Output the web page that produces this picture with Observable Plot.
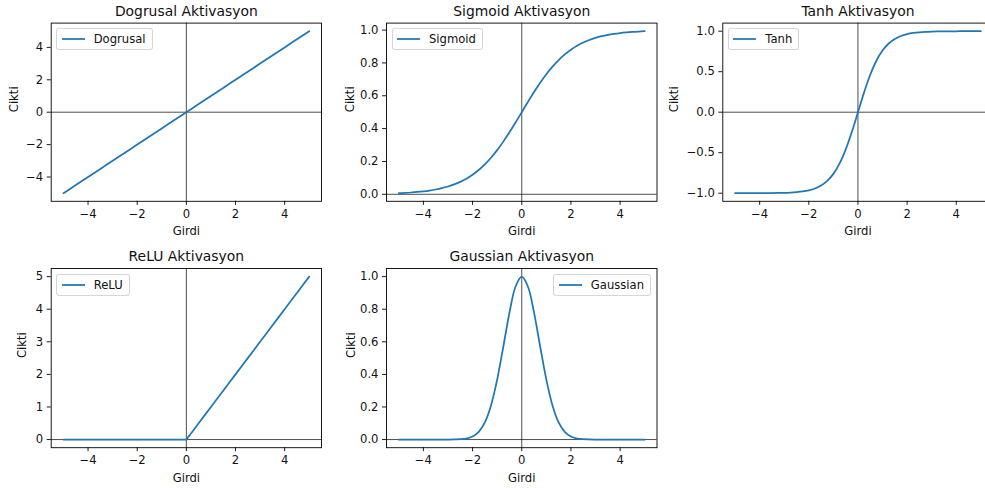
<!DOCTYPE html>
<html>
<head>
<meta charset="utf-8">
<script src="https://cdn.jsdelivr.net/npm/d3@7"></script>
<script src="https://cdn.jsdelivr.net/npm/@observablehq/plot@0.6"></script>
<style>
  html, body { margin: 0; padding: 0; background: #fff; }
  #root { position: relative; width: 985px; height: 488px; overflow: hidden; background: #fff; font-family: "DejaVu Sans", sans-serif; }
  #root > svg { position: absolute; left: 0; top: 0; max-width: none !important; height: 488px !important; }
  .legend { position: absolute; box-sizing: border-box; height: 22px; display: flex; align-items: center;
    background: rgba(255,255,255,0.8); border: 1px solid rgba(204,204,204,0.8); border-radius: 3px;
    padding: 0 6px 0 3.5px; font-family: "DejaVu Sans", sans-serif; font-size: 11.6px; color: #111; white-space: nowrap; }
  .legend svg { position: static !important; margin-right: 9px; }
</style>
</head>
<body>
<div id="root"></div>
<script>
// ---- data ----
const girdi = [-5, -4.75, -4.5, -4.25, -4, -3.75, -3.5, -3.25, -3, -2.75, -2.5, -2.25, -2, -1.75, -1.5, -1.25, -1, -0.75, -0.5, -0.25,
  0, 0.25, 0.5, 0.75, 1, 1.25, 1.5, 1.75, 2, 2.25, 2.5, 2.75, 3, 3.25, 3.5, 3.75, 4, 4.25, 4.5, 4.75, 5];

const dogrusal = [-5, -4.75, -4.5, -4.25, -4, -3.75, -3.5, -3.25, -3, -2.75, -2.5, -2.25, -2, -1.75, -1.5, -1.25, -1, -0.75, -0.5, -0.25,
  0, 0.25, 0.5, 0.75, 1, 1.25, 1.5, 1.75, 2, 2.25, 2.5, 2.75, 3, 3.25, 3.5, 3.75, 4, 4.25, 4.5, 4.75, 5];

const sigmoid = [0.0067, 0.0086, 0.0110, 0.0141, 0.0180, 0.0230, 0.0293, 0.0373, 0.0474, 0.0601, 0.0759, 0.0953, 0.1192, 0.1480, 0.1824,
  0.2227, 0.2689, 0.3208, 0.3775, 0.4378, 0.5, 0.5622, 0.6225, 0.6792, 0.7311, 0.7773, 0.8176, 0.8520, 0.8808, 0.9047, 0.9241,
  0.9399, 0.9526, 0.9627, 0.9707, 0.9770, 0.9820, 0.9859, 0.9890, 0.9914, 0.9933];

const tanhV = [-0.9999, -0.9998, -0.9998, -0.9996, -0.9993, -0.9989, -0.9982, -0.9970, -0.9951, -0.9919, -0.9866, -0.9780, -0.9640,
  -0.9414, -0.9051, -0.8483, -0.7616, -0.6351, -0.4621, -0.2449, 0, 0.2449, 0.4621, 0.6351, 0.7616, 0.8483, 0.9051, 0.9414, 0.9640,
  0.9780, 0.9866, 0.9919, 0.9951, 0.9970, 0.9982, 0.9989, 0.9993, 0.9996, 0.9998, 0.9998, 0.9999];

const relu = [0, 0, 0, 0, 0, 0, 0, 0, 0, 0, 0, 0, 0, 0, 0, 0, 0, 0, 0, 0,
  0, 0.25, 0.5, 0.75, 1, 1.25, 1.5, 1.75, 2, 2.25, 2.5, 2.75, 3, 3.25, 3.5, 3.75, 4, 4.25, 4.5, 4.75, 5];

const gaussian = [0, 0, 0, 0, 0, 0, 0, 0, 0.0001, 0.0005, 0.0019, 0.0063, 0.0183, 0.0468, 0.1054, 0.2096, 0.3679, 0.5698, 0.7788, 0.9394,
  1, 0.9394, 0.7788, 0.5698, 0.3679, 0.2096, 0.1054, 0.0468, 0.0183, 0.0063, 0.0019, 0.0005, 0.0001, 0, 0, 0, 0, 0, 0, 0, 0];

const titles = ["Dogrusal Aktivasyon", "Sigmoid Aktivasyon", "Tanh Aktivasyon", "ReLU Aktivasyon", "Gaussian Aktivasyon"];
const legendNames = ["Dogrusal", "Sigmoid", "Tanh", "ReLU", "Gaussian"];
const xTicks = [-4, -2, 0, 2, 4];
const yTicksList = [
  [-4, -2, 0, 2, 4],
  [0, 0.2, 0.4, 0.6, 0.8, 1.0],
  [-1, -0.5, 0, 0.5, 1],
  [0, 1, 2, 3, 4, 5],
  [0, 0.2, 0.4, 0.6, 0.8, 1.0]
];
const xLabel = "Girdi";
const yLabel = "Cikti";

// ---- layout ----
const W = 985, H = 488;
const BLUE = "#1f77b4";
const panels = [
  {vals: dogrusal, yDomain: [-5.5, 5.5], fmt: d3.format("d"), box: [50.7, 321, 22.6, 200.8], yl: -33.5, curve: "linear", legend: "left"},
  {vals: sigmoid, yDomain: [-0.0426, 1.0426], fmt: d3.format(".1f"), box: [386, 656.5, 22.6, 200.8], yl: -33, curve: "catmull-rom", legend: "left"},
  {vals: tanhV, yDomain: [-1.1, 1.1], fmt: d3.format(".1f"), box: [722.3, 992.6, 22.6, 200.8], yl: -45, curve: "catmull-rom", legend: "left"},
  {vals: relu, yDomain: [-0.25, 5.25], fmt: d3.format("d"), box: [50.7, 321, 268, 447.2], yl: -25.5, curve: "linear", legend: "left"},
  {vals: gaussian, yDomain: [-0.05, 1.05], fmt: d3.format(".1f"), box: [386, 656.5, 268, 447.2], yl: -32, curve: "catmull-rom", legend: "right"}
];

const root = document.getElementById("root");

panels.forEach((p, i) => {
  const data = girdi.map((x, k) => ({x, y: p.vals[k]}));
  const [x0, x1, y0, y1] = p.box;
  const svgW = Math.max(W, Math.ceil(x1) + 10);
  const chart = Plot.plot({
    width: svgW,
    height: H,
    marginLeft: x0,
    marginRight: svgW - x1,
    marginTop: y0,
    marginBottom: H - y1,
    style: {fontFamily: "DejaVu Sans, sans-serif", fontSize: "11.6px", color: "#000", background: "transparent", overflow: "visible", maxWidth: "none"},
    x: {domain: [-5.5, 5.5]},
    y: {domain: p.yDomain},
    marks: [
      Plot.ruleY([0], {stroke: "#000", strokeWidth: 0.7}),
      Plot.ruleX([0], {stroke: "#000", strokeWidth: 0.7}),
      Plot.line(data, {x: "x", y: "y", stroke: BLUE, strokeWidth: 1.75, curve: p.curve}),
      Plot.axisX({ticks: xTicks, tickSize: 4, tickPadding: 4.5, label: null, tickFormat: d3.format("d"), fill: "#111", strokeWidth: 0.9}),
      Plot.axisY({ticks: yTicksList[i], tickSize: 4, tickPadding: 4, label: null, tickFormat: p.fmt, fill: "#111", strokeWidth: 0.9}),
      Plot.text([titles[i]], {frameAnchor: "top", lineAnchor: "bottom", dy: -7.3, fontSize: 13.9, fill: "#111"}),
      Plot.text([xLabel], {frameAnchor: "bottom", lineAnchor: "bottom", dy: 34, fontSize: 11.6, fill: "#111"}),
      Plot.text([yLabel], {frameAnchor: "left", lineAnchor: "bottom", rotate: -90, dx: p.yl, fontSize: 11.6, fill: "#111"}),
      Plot.frame({stroke: "#000", strokeWidth: 0.9})
    ]
  });
  chart.style.width = svgW + "px";
  chart.style.height = H + "px";
  chart.style.maxWidth = "none";
  root.appendChild(chart);

  // legend (matplotlib-style box)
  const lg = document.createElement("div");
  lg.className = "legend";
  lg.style.top = (y0 + 5.5) + "px";
  if (p.legend === "left") lg.style.left = (x0 + 5.5) + "px";
  else lg.style.right = (W - (x1 - 5.5)) + "px";
  const ns = "http://www.w3.org/2000/svg";
  const hs = document.createElementNS(ns, "svg");
  hs.setAttribute("width", "24");
  hs.setAttribute("height", "10");
  const ln = document.createElementNS(ns, "line");
  ln.setAttribute("x1", "1"); ln.setAttribute("x2", "24");
  ln.setAttribute("y1", "5"); ln.setAttribute("y2", "5");
  ln.setAttribute("stroke", BLUE); ln.setAttribute("stroke-width", "1.75");
  hs.appendChild(ln);
  lg.appendChild(hs);
  const tx = document.createElement("span");
  tx.textContent = legendNames[i];
  lg.appendChild(tx);
  root.appendChild(lg);
});
</script>
</body>
</html>
